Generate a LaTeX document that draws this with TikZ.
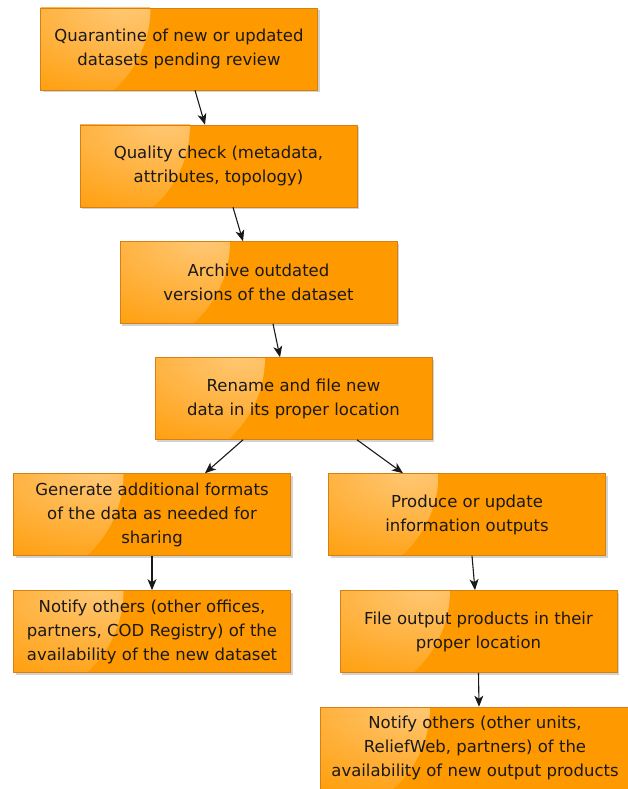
\documentclass[tikz,border=0pt]{standalone}
\usepackage{fontspec}
\setmainfont{DejaVu Sans}
\usepackage{tikz}
\usetikzlibrary{positioning}
\usetikzlibrary{arrows.meta}
\usetikzlibrary{shadows}

\definecolor{boxorange}{RGB}{255,153,0}
\definecolor{boxedge}{RGB}{214,128,20}

\begin{document}
\begin{tikzpicture}[x=1pt, y=-1pt,
    step box/.style={draw=boxedge, line width=0.6pt, fill=boxorange,
        minimum width=277pt, minimum height=82pt, inner sep=2pt,
        align=center, text=black!90, font=\fontsize{16.5}{24}\selectfont,
        drop shadow={shadow xshift=2pt, shadow yshift=-2pt, opacity=0.35},
        path picture={\shade [inner color=boxorange!55!white, outer color=boxorange]
            (path picture bounding box.north west) circle [radius=110pt];}},
    flow/.style={-{Stealth[length=11pt,width=9pt,inset=3pt]}, line width=1.1pt, black!90}]

    \useasboundingbox (0,0) rectangle (628,789);

    \node [step box] (quar) at (179,49) {Quarantine of new or updated\\datasets pending review};
    \node [step box] (qual) at (218.5,166) {Quality check (metadata,\\attributes, topology)};
    \node [step box] (arch) at (258.5,282.5) {Archive outdated\\versions of the dataset};
    \node [step box] (ren) at (293.5,398.5) {Rename and file new\\data in its proper location};
    \node [step box] (gen) at (152,514.5) {Generate additional formats\\of the data as needed for\\sharing};
    \node [step box] (prod) at (467,514.5) {Produce or update\\information outputs};
    \node [step box] (notd) at (152,631.5) {Notify others (other offices,\\partners, COD Registry) of the\\availability of the new dataset};
    \node [step box] (file) at (478.5,631.5) {File output products in their\\proper location};
    \node [step box, minimum width=310pt] (noto) at (475,748) {Notify others (other units,\\ReliefWeb, partners) of the\\availability of new output products};

    % connectors
    \draw [flow] ([xshift=16pt]quar.south) -- ([xshift=-13.5pt]qual.north);
    \draw [flow] ([xshift=14.5pt]qual.south) -- ([xshift=-15.5pt]arch.north);
    \draw [flow] ([xshift=14.5pt]arch.south) -- ([xshift=-13.5pt]ren.north);
    \draw [flow] ([xshift=-50.5pt]ren.south) -- ([xshift=53pt]gen.north);
    \draw [flow] ([xshift=63.5pt]ren.south) -- ([xshift=-64pt]prod.north);
    \draw [flow] (gen.south) -- (notd.north);
    \draw [flow] ([xshift=5pt]prod.south) -- ([xshift=-3.5pt]file.north);
    \draw [flow] (file.south) -- ([xshift=4pt]noto.north);
\end{tikzpicture}
\end{document}
